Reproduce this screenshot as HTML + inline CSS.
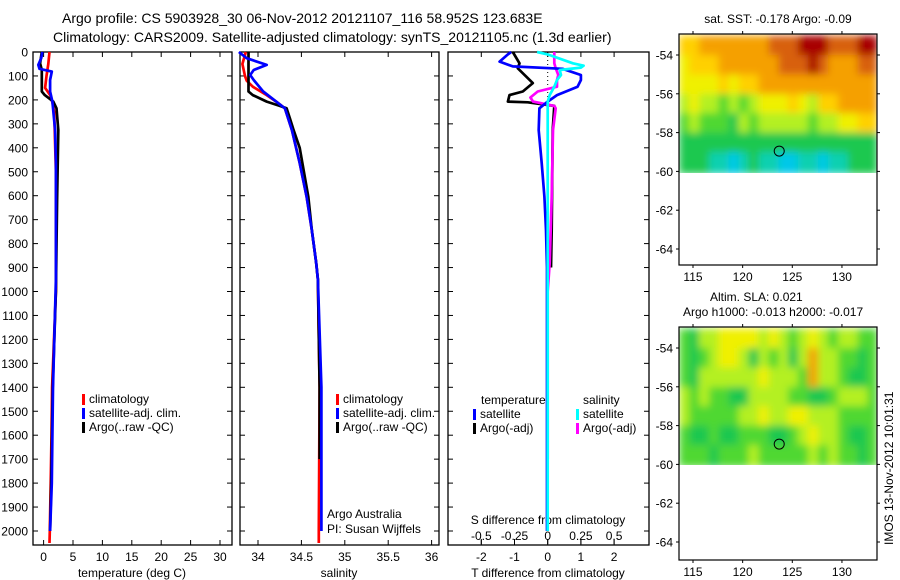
<!DOCTYPE html>
<html><head><meta charset="utf-8"><style>
body{margin:0;background:#fff;}
svg{display:block;font-family:"Liberation Sans",sans-serif;}
</style></head><body>
<svg id="c" width="900" height="580" xmlns="http://www.w3.org/2000/svg">
<defs>
<filter id="blur1" filterUnits="userSpaceOnUse" x="679" y="34" width="198" height="139"><feGaussianBlur stdDeviation="4" edgeMode="duplicate"/></filter>
<filter id="blur2" filterUnits="userSpaceOnUse" x="679" y="327" width="198" height="138"><feGaussianBlur stdDeviation="4" edgeMode="duplicate"/></filter>
</defs>
<text x="62" y="23" font-size="14">Argo profile: CS 5903928_30 06-Nov-2012 20121107_116 58.952S 123.683E</text>
<text x="53" y="42" font-size="14">Climatology: CARS2009. Satellite-adjusted climatology: synTS_20121105.nc (1.3d earlier)</text>
<text x="778" y="23" font-size="12" text-anchor="middle">sat. SST: -0.178 Argo: -0.09</text>
<text x="710" y="301" font-size="12">Altim. SLA: 0.021</text>
<text x="683" y="316" font-size="12">Argo h1000: -0.013 h2000: -0.017</text>
<text transform="translate(893,545) rotate(-90)" font-size="12">IMOS 13-Nov-2012 10:01:31</text>
<g id="g"></g>
</svg>
<script>
// ---- data ----
const depthTicks=[0,100,200,300,400,500,600,700,800,900,1000,1100,1200,1300,1400,1500,1600,1700,1800,1900,2000];
const tempTicks=[0,5,10,15,20,25,30];
const salTicks=[34,34.5,35,35.5,36];
const tdiffTicks=[-2,-1,0,1,2];
const sdiffTicks=[-0.5,-0.25,0,0.25,0.5];
const sdiffLabels=["-0.5","-0.25","0","0.25","0.5"];
const lonTicks=[115,120,125,130];
const latTicks=[-54,-56,-58,-60,-62,-64];

const climDepth=[0,50,100,150,180,210,250,500,1000,1400,1600,1800,2000,2050];
const climT=[1.0,0.8,0.5,0.25,1.1,1.5,1.8,2.1,2.1,1.45,1.35,1.2,1.05,1.0];
const satDepth=[0,26,54,70,82,117,165,207,326,464,950,1400,1800,2000];
const satT=[-0.2,-0.4,-0.9,-0.7,1.4,1.1,1.1,1.5,1.95,2.1,2.1,1.6,1.4,1.1];
const argoDepth=[0,47,75,165,180,207,235,326,617,1000,1400,1800,2000];
const argoT=[-0.3,-0.6,-0.3,-0.3,0.2,1.65,2.2,2.5,2.3,2.1,1.55,1.3,1.1];

const climSDepth=[0,50,100,120,145,180,207,235,326,464,604,743,881,950,1400,2000,2050];
const climS=[33.86,33.82,33.85,33.87,33.94,34.1,34.21,34.31,34.39,34.48,34.56,34.62,34.67,34.69,34.71,34.70,34.70];
const satSDepth=[0,26,54,75,96,117,165,207,235,326,464,604,743,881,950,1400,2000];
const satS=[33.78,33.87,34.10,33.95,33.91,33.95,34.06,34.21,34.31,34.39,34.48,34.56,34.62,34.67,34.69,34.73,34.73];
const argoSDepth=[0,47,165,180,207,225,235,280,326,400,604,743,881,950,1400,1700];
const argoS=[33.89,33.89,33.89,33.94,34.1,34.25,34.33,34.37,34.41,34.48,34.58,34.62,34.67,34.69,34.71,34.71];

const dTDepth=[0,10,40,60,70,96,117,145,180,207,235,326,464,604,743,900,2000];
const dTsat=[-1.1,-1.2,-1.45,-1.05,0.45,1.0,1.0,0.9,0.28,0,-0.25,-0.27,-0.18,-0.1,-0.05,-0.02,-0.02];
const dTArgoDepth=[0,47,68,130,165,180,207,210,225,326,743,900];
const dTargo=[-1.05,-0.85,-0.9,-0.45,-0.75,-1.15,-1.2,-0.6,0.2,0.15,0.12,0.1];
const dSDepth=[0,10,47,57,65,75,96,117,145,180,207,235,2000];
const dSsat=[-0.08,0,0.19,0.27,0.25,0.09,0.1,0.07,0.05,0.015,0,0,0];
const dSArgoDepth=[0,47,68,96,117,145,165,190,207,225,235,326,604,881,1000,1700];
const dSargo=[0.05,0.05,0.06,0.08,0.07,0.07,-0.075,-0.13,-0.11,0.05,0.06,0.04,0.03,0.015,0,0];

const gridLon=[114,115,116,117,118,119,120,121,122,123,124,125,126,127,128,129,130,131,132,133];
const gridLat=[-53,-54,-55,-56,-57,-58,-59];
const sstGrid=[
[7,7,8,8,8,8,8,8,8,9,9,9,10,10,10,9,9,9,10,10],
[6,7,7,7,8,8,8,8,8,8,9,9,9,10,9,8,8,8,9,9],
[6,6,6,6,7,6,7,7,8,8,8,8,8,8,8,8,8,8,8,8],
[5,6,5,5,4,5,4,5,6,6,6,7,6,5,7,7,8,8,8,8],
[4,5,4,4,4,3,5,4,5,5,5,5,5,4,5,5,6,6,7,7],
[3,3,3,3,3,3,3,3,3,3,3,3,3,3,3,3,3,3,3,3],
[3,3,3,2,2,1,2,3,2,2,1,1,2,2,1,2,2,3,3,3]];
const slaGrid=[
[4,3,5,5,6,6,6,6,5,6,5,4,5,6,5,4,5,5,4,4],
[4,3,4,5,6,6,5,3,5,4,5,3,5,8,5,5,4,4,3,4],
[4,3,5,5,5,5,5,5,6,5,5,5,4,8,5,5,4,3,3,4],
[5,4,5,4,4,3,3,5,5,5,5,4,4,3,3,4,5,5,5,4],
[5,4,4,4,4,4,5,5,6,5,5,6,6,5,5,5,4,4,4,4],
[4,3,3,4,3,3,4,4,4,3,3,4,5,6,5,5,4,3,3,4],
[4,4,4,3,4,4,4,5,4,4,4,4,4,5,4,5,4,4,3,4]];
const floatLon=123.683, floatLat=-58.952;

// ---- drawing ----
const NS="http://www.w3.org/2000/svg";
const G=document.getElementById('g');
function el(t,a,p){const e=document.createElementNS(NS,t);for(const k in a)e.setAttribute(k,a[k]);(p||G).appendChild(e);return e;}
const PT=52,PB=545;
const yD=d=>PT+d*0.2395;
const xT=t=>43.6+t*5.88;
const xS=s=>258+(s-34)*86.8;
const xDT=t=>547.7+t*33.2;
const xDS=s=>547.7+s*132.8;
const panels=[[33,232],[240,439],[448,649]];
panels.forEach((p,i)=>{
 const r=el('rect',{x:p[0],y:PT,width:p[1]-p[0],height:PB-PT,fill:'none',stroke:'#000','stroke-width':1.3});
 
 
 depthTicks.forEach(d=>{
  const t1=el('line',{x1:p[0],x2:p[0]+5,y1:yD(d),y2:yD(d),stroke:'#000'});
  
  
  const t2=el('line',{x1:p[1],x2:p[1]-5,y1:yD(d),y2:yD(d),stroke:'#000'});
  
  
 });
});
depthTicks.forEach(d=>{
 const t=el('text',{x:28,y:yD(d)+4.5,'font-size':12,'text-anchor':'end'});t.textContent=d;
 
 
});
function xAxis(ticks,fx,labels,ly,top){
 ticks.forEach((v,i)=>{
  const x=fx(v);
  const a=el('line',{x1:x,x2:x,y1:PB,y2:PB-5,stroke:'#000'});
  
  
  if(top){const b=el('line',{x1:x,x2:x,y1:PT,y2:PT+5,stroke:'#000'});
  
  }
  const t=el('text',{x:x,y:ly,'font-size':12,'text-anchor':'middle'});t.textContent=labels?labels[i]:v;
  
  
 });
}
xAxis(tempTicks,xT,null,561,true);
xAxis(salTicks,xS,null,561,true);
xAxis(tdiffTicks,xDT,null,561,true);
sdiffTicks.forEach((v,i)=>{
 const x=xDS(v);
 const a=el('line',{x1:x,x2:x,y1:544,y2:539,stroke:'#000'});
 
 
 const t=el('text',{x:x,y:540,'font-size':12,'text-anchor':'middle'});t.textContent=sdiffLabels[i];
 
 
});
[['temperature (deg C)',132,'temperature-axis-title'],['salinity',339,'salinity-axis-title'],['T difference from climatology',548,'t-diff-axis-title']].forEach(a=>{
 const t=el('text',{x:a[1],y:577,'font-size':12,'text-anchor':'middle'});t.textContent=a[0];
 
 
});
{const t=el('text',{x:548,y:524,'font-size':12,'text-anchor':'middle'});t.textContent='S difference from climatology';
 
 }
function line(ds,vs,fx,col,name){
 const pts=ds.map((d,i)=>fx(vs[i]).toFixed(1)+','+yD(d).toFixed(1)).join(' ');
 const p=el('polyline',{points:pts,fill:'none',stroke:col,'stroke-width':2.7,'stroke-linejoin':'round'});
 
 
}
const zl=el('line',{x1:xDT(0),x2:xDT(0),y1:PT,y2:250,stroke:'#000','stroke-dasharray':'1,3'});


line(climDepth,climT,xT,'#ff0000','temp-climatology-line');
line(argoDepth,argoT,xT,'#000','temp-argo-line');
line(satDepth,satT,xT,'#0000ff','temp-satellite-line');
line(climSDepth,climS,xS,'#ff0000','sal-climatology-line');
line(argoSDepth,argoS,xS,'#000','sal-argo-line');
line(satSDepth,satS,xS,'#0000ff','sal-satellite-line');
line(dTArgoDepth,dTargo,xDT,'#000','tdiff-argo-line');
line(dSArgoDepth,dSargo,xDS,'#ff00ff','sdiff-argo-line');
line(dTDepth,dTsat,xDT,'#0000ff','tdiff-satellite-line');
line(dSDepth,dSsat,xDS,'#00ffff','sdiff-satellite-line');
function legend(x,y,col,txt,name){
 const r=el('rect',{x:x,y:y-9,width:3,height:11,fill:col});
 
 
 const t=el('text',{x:x+7,y:y,'font-size':12});t.textContent=txt;
 
 
}
[[82,'panel1'],[336,'panel2']].forEach(a=>{
 legend(a[0],403,'#ff0000','climatology',a[1]+'-legend-climatology');
 legend(a[0],417,'#0000ff','satellite-adj. clim.',a[1]+'-legend-satellite');
 legend(a[0],431,'#000','Argo(..raw -QC)',a[1]+'-legend-argo');
});
{const t=el('text',{x:481,y:404,'font-size':12});t.textContent='temperature';
 
 
 const s=el('text',{x:583,y:404,'font-size':12});s.textContent='salinity';
 
 }
legend(473,418,'#0000ff','satellite','legend-t-satellite');
legend(473,432,'#000','Argo(-adj)','legend-t-argo');
legend(576,418,'#00ffff','satellite','legend-s-satellite');
legend(576,432,'#ff00ff','Argo(-adj)','legend-s-argo');
{const t=el('text',{x:327,y:518,'font-size':12});t.textContent='Argo Australia';
 
 
 const s=el('text',{x:327,y:533,'font-size':12});s.textContent='PI: Susan Wijffels';
 
 }

// maps
const palette=['#0030ff','#00c8e8','#10d0b0','#1ec850','#50d830','#b4f020','#f0f000','#ffd000','#f5a000','#d86010','#a80000'];
function map(top,bottom,grid,name,filt){
 const L=679,R=877,lat54=top+21;
 const mx=lo=>693+(lo-115)*9.93;
 const my=la=>lat54+(-54-la)*19.4;
 const cells=el('g',{filter:'url(#'+filt+')'});
 
 
 grid.forEach((row,j)=>row.forEach((v,i)=>{
  const x0=Math.max(L,mx(gridLon[i]-0.41)),x1=Math.min(R,mx(gridLon[i]+0.59));
  const y0=Math.max(top,my(gridLat[j])),y1=my(gridLat[j]-(j==grid.length-1?1.1:1));
  const r=el('rect',{x:x0,y:y0,width:x1-x0+0.5,height:y1-y0+0.5,fill:palette[v],'shape-rendering':'crispEdges'},cells);
  
  
 }));
 const b=el('rect',{x:L,y:top,width:R-L,height:bottom-top,fill:'none',stroke:'#000','stroke-width':1.2});
 
 
 latTicks.forEach(la=>{
  const y=my(la);
  const a=el('line',{x1:L,x2:L-3,y1:y,y2:y,stroke:'#000'});
  
  
  const c=el('line',{x1:R,x2:R+3,y1:y,y2:y,stroke:'#000'});
  
  
  const t=el('text',{x:673,y:y+4.5,'font-size':12,'text-anchor':'end'});t.textContent=la;
  
  
 });
 lonTicks.forEach(lo=>{
  const x=mx(lo);
  const a=el('line',{x1:x,x2:x,y1:bottom,y2:bottom+3,stroke:'#000'});
  
  
  const t2=el('line',{x1:x,x2:x,y1:top,y2:top-3,stroke:'#000'});
  
  
  const t=el('text',{x:x,y:bottom+16,'font-size':12,'text-anchor':'middle'});t.textContent=lo;
  
  
 });
 const c=el('ellipse',{cx:mx(floatLon),cy:my(floatLat),rx:5,ry:5,fill:'none',stroke:'#000'});
 
 
}
map(34,265,sstGrid,'sst-map','blur1');
map(327,560,slaGrid,'sla-map','blur2');
</script>
</body></html>
